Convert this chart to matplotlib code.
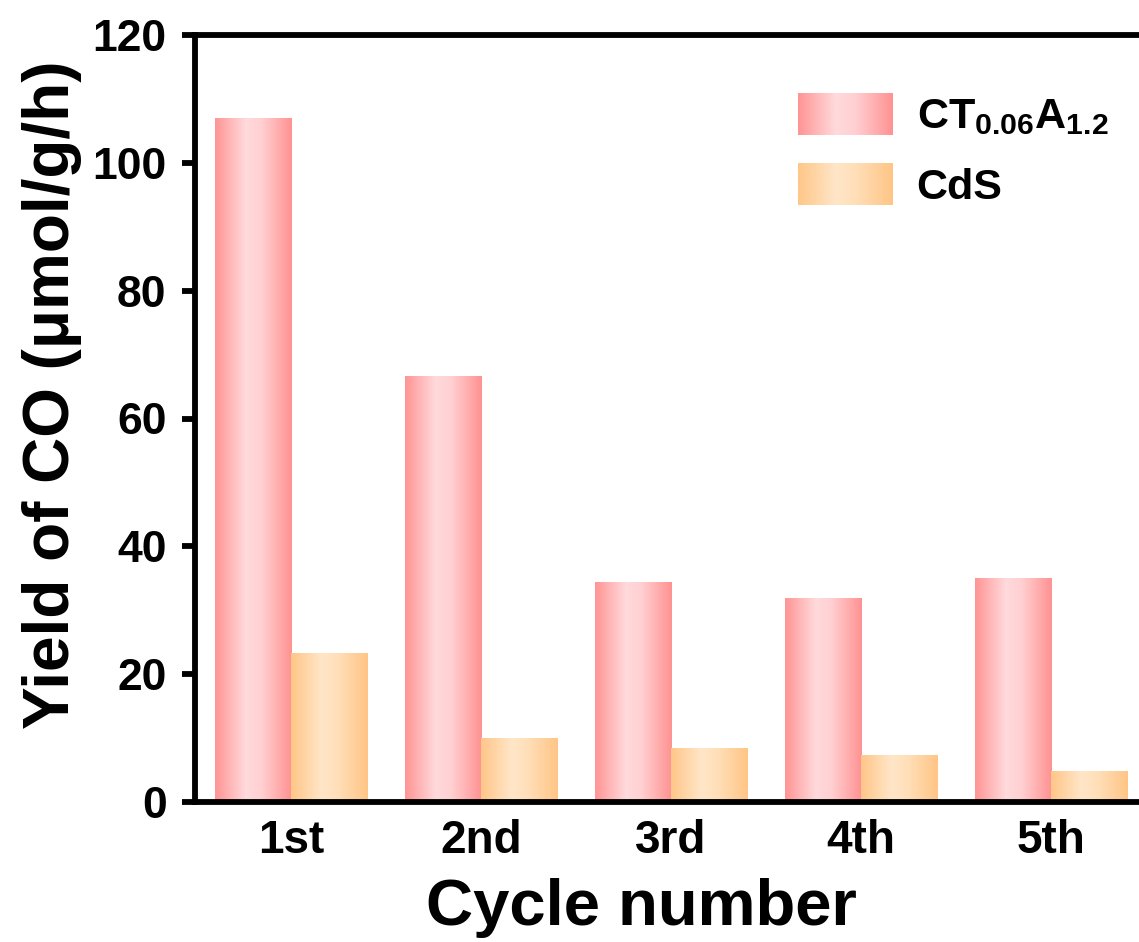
import numpy as np
import matplotlib
matplotlib.use('Agg')
import matplotlib.pyplot as plt
from matplotlib.colors import LinearSegmentedColormap
from matplotlib.legend_handler import HandlerBase
from matplotlib.image import BboxImage
from matplotlib.transforms import Bbox, TransformedBbox
from matplotlib.patches import Patch

plt.rcParams['font.family'] = ['Liberation Sans', 'DejaVu Sans']
plt.rcParams['font.weight'] = 'bold'
plt.rcParams['mathtext.fontset'] = 'custom'
plt.rcParams['mathtext.rm'] = 'Liberation Sans:bold'
plt.rcParams['mathtext.bf'] = 'Liberation Sans:bold'
plt.rcParams['mathtext.it'] = 'Liberation Sans:bold'

# 数据
cycles = ['1st', '2nd', '3rd', '4th', '5th']
ct_vals = [107.0, 66.6, 34.4, 31.8, 34.9]
cds_vals = [23.3, 10.0, 8.4, 7.35, 4.7]
labels = [r'$\mathrm{CT_{0.06}A_{1.2}}$', 'CdS']

# 渐变色
pink_cmap = LinearSegmentedColormap.from_list(
    'pink', [(0, '#ff9494'), (0.4, '#ffdadc'), (0.6, '#ffd0d2'), (1, '#ff9292')])
orange_cmap = LinearSegmentedColormap.from_list(
    'orange', [(0, '#ffc688'), (0.4, '#ffe6c8'), (0.6, '#ffdfb9'), (1, '#ffc586')])
grad = np.linspace(0, 1, 256).reshape(1, -1)


class GradHandler(HandlerBase):
    def __init__(self, cmap):
        self.cmap = cmap
        super().__init__()

    def create_artists(self, legend, orig_handle, xdescent, ydescent,
                       width, height, fontsize, trans):
        bb = Bbox.from_bounds(-xdescent, -ydescent, width, height)
        tbb = TransformedBbox(bb, trans)
        img = BboxImage(tbb, cmap=self.cmap, interpolation='bicubic')
        img.set_data(grad)
        return [img]


fig = plt.figure(figsize=(11.39, 9.42), dpi=100)
ax = fig.add_axes([195/1139, 140/942, 1 - 195/1139, 767/942])

x = np.arange(len(cycles))
w = 0.4
bars1 = ax.bar(x - w/2, ct_vals, w, color='none', edgecolor='none')
bars2 = ax.bar(x + w/2, cds_vals, w, color='none', edgecolor='none')
for bars, cmap in [(bars1, pink_cmap), (bars2, orange_cmap)]:
    for b in bars:
        x0 = b.get_x()
        ax.imshow(grad, cmap=cmap, aspect='auto', interpolation='bicubic',
                  extent=[x0, x0 + b.get_width(), 0, b.get_height()], zorder=2)

ax.set_xlim(-0.505, (1139 - 291) / 190)
ax.set_ylim(0, 120)
ax.set_yticks([0, 20, 40, 60, 80, 100, 120])
ax.set_xticks(x)
ax.set_xticklabels(cycles)

for s in ['left', 'bottom', 'top']:
    ax.spines[s].set_linewidth(4.2)
ax.spines['right'].set_visible(False)
ax.tick_params(axis='y', direction='out', length=9.5, width=4.2, labelsize=32, pad=11)
ax.tick_params(axis='x', length=0, labelsize=33, pad=12)

ax.set_ylabel('Yield of CO (μmol/g/h)', fontsize=46, fontweight='bold')
ax.yaxis.set_label_coords(-0.120, 0.531)
ax.set_xlabel('Cycle number', fontsize=47, fontweight='bold', va='baseline')
ax.xaxis.set_label_coords(0.4725, -0.160)

h1 = Patch(label=labels[0])
h2 = Patch(label=labels[1])
ax.legend([h1, h2], labels, handler_map={h1: GradHandler(pink_cmap), h2: GradHandler(orange_cmap)},
          loc='upper left', bbox_to_anchor=(0.639, 0.924), frameon=False,
          fontsize=31, handlelength=2.2, handleheight=1.1, handletextpad=0.55,
          labelspacing=0.6, borderpad=0, borderaxespad=0)

fig.savefig('out.png', dpi=100)
